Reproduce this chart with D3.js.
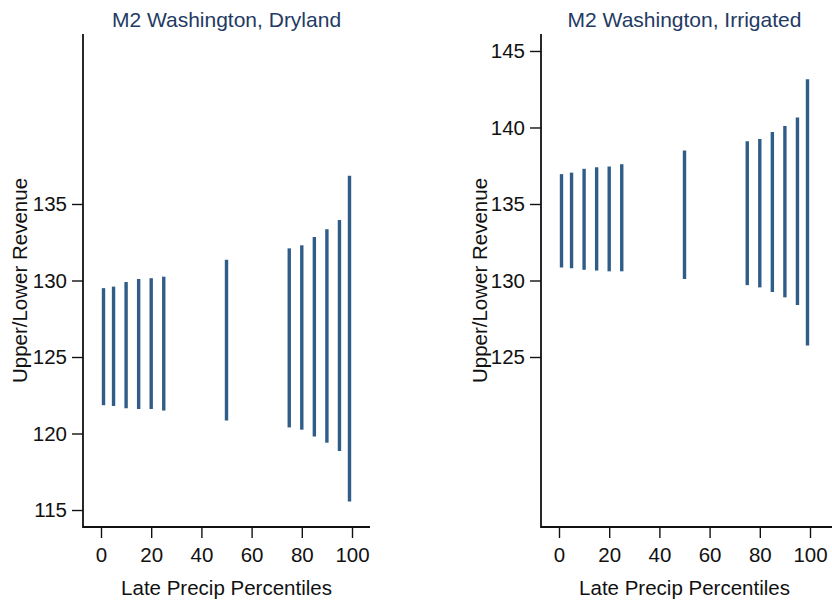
<!DOCTYPE html>
<html>
<head>
<meta charset="utf-8">
<script src="https://cdn.jsdelivr.net/npm/d3@7"></script>
<style>
  html, body { margin: 0; padding: 0; background: #fff; }
  svg { display: block; }
  text { font-family: "Liberation Sans", Arial, sans-serif; }
</style>
</head>
<body>
<svg id="chart" width="832" height="606"></svg>
<script>
// ---- data ----
const percentiles = [1, 5, 10, 15, 20, 25, 50, 75, 80, 85, 90, 95, 99];
const drylandUpper = [129.5, 129.6, 129.9, 130.1, 130.15, 130.25, 131.35, 132.1, 132.3, 132.85, 133.35, 133.95, 136.85];
const drylandLower = [121.85, 121.8, 121.65, 121.6, 121.6, 121.5, 120.85, 120.4, 120.25, 119.8, 119.4, 118.85, 115.55];
const irrigatedUpper = [136.95, 137.05, 137.3, 137.4, 137.45, 137.6, 138.5, 139.1, 139.25, 139.7, 140.1, 140.65, 143.15];
const irrigatedLower = [130.85, 130.8, 130.7, 130.65, 130.6, 130.6, 130.1, 129.7, 129.55, 129.25, 128.9, 128.4, 125.75];
const xTicks = [0, 20, 40, 60, 80, 100];
const drylandYTicks = [115, 120, 125, 130, 135];
const irrigatedYTicks = [125, 130, 135, 140, 145];
const panelTitles = ["M2 Washington, Dryland", "M2 Washington, Irrigated"];
const xTitle = "Late Precip Percentiles";
const yTitle = "Upper/Lower Revenue";

// ---- layout ----
const svg = d3.select("#chart");
const barColor = "#2f5d88";
const titleColor = "#233a63";
const fontSize = 20.5;

const panels = [
  { title: panelTitles[0], upper: drylandUpper, lower: drylandLower, yTicks: drylandYTicks,
    x0: 83, x1: 370, axisEnd: 370, yTitleX: 27 },
  { title: panelTitles[1], upper: irrigatedUpper, lower: irrigatedLower, yTicks: irrigatedYTicks,
    x0: 541, x1: 828, axisEnd: 832, yTitleX: 487 }
];

const yTop = 34, yBottom = 527;
const y = d3.scaleLinear().domain([113.89, 146.11]).range([yBottom, yTop]);

panels.forEach(p => {
  const x = d3.scaleLinear().domain([-7.17, 107.17]).range([p.x0, p.x1]);
  const g = svg.append("g");

  // bars (ranges)
  g.selectAll("line.bar").data(percentiles).join("line")
    .attr("class", "bar")
    .attr("x1", (d) => x(d)).attr("x2", (d) => x(d))
    .attr("y1", (d, i) => y(p.upper[i]))
    .attr("y2", (d, i) => y(p.lower[i]))
    .attr("stroke", barColor)
    .attr("stroke-width", 3.4);

  // x axis
  const xAxis = d3.axisBottom(x).tickValues(xTicks).tickSize(11).tickPadding(9).tickSizeOuter(0);
  const gx = g.append("g").attr("transform", `translate(0,${yBottom})`).call(xAxis);
  gx.select(".domain").remove();
  gx.selectAll(".tick line").attr("stroke", "#111").attr("stroke-width", 1.4);
  gx.selectAll(".tick text").attr("font-size", fontSize).attr("fill", "#111")
    .attr("font-family", "Liberation Sans, Arial, sans-serif");
  g.append("line").attr("x1", p.x0).attr("x2", p.axisEnd)
    .attr("y1", yBottom).attr("y2", yBottom)
    .attr("stroke", "#111").attr("stroke-width", 1.8);

  // y axis
  const yAxis = d3.axisLeft(y).tickValues(p.yTicks).tickSize(11).tickPadding(5).tickSizeOuter(0);
  const gy = g.append("g").attr("transform", `translate(${p.x0},0)`).call(yAxis);
  gy.select(".domain").remove();
  gy.selectAll(".tick line").attr("stroke", "#111").attr("stroke-width", 1.4);
  gy.selectAll(".tick text").attr("font-size", fontSize).attr("fill", "#111")
    .attr("font-family", "Liberation Sans, Arial, sans-serif");
  g.append("line").attr("x1", p.x0).attr("x2", p.x0)
    .attr("y1", yTop).attr("y2", yBottom + 0.9)
    .attr("stroke", "#111").attr("stroke-width", 1.8);

  // titles
  g.append("text")
    .attr("x", (p.x0 + p.x1) / 2).attr("y", 27)
    .attr("text-anchor", "middle")
    .attr("font-size", 21).attr("fill", titleColor)
    .text(p.title);

  g.append("text")
    .attr("x", (p.x0 + p.x1) / 2).attr("y", 595)
    .attr("text-anchor", "middle")
    .attr("font-size", fontSize).attr("fill", "#111")
    .text(xTitle);

  g.append("text")
    .attr("transform", `translate(${p.yTitleX},${(yTop + yBottom) / 2}) rotate(-90)`)
    .attr("text-anchor", "middle")
    .attr("font-size", fontSize).attr("fill", "#111")
    .text(yTitle);
});
</script>
</body>
</html>
